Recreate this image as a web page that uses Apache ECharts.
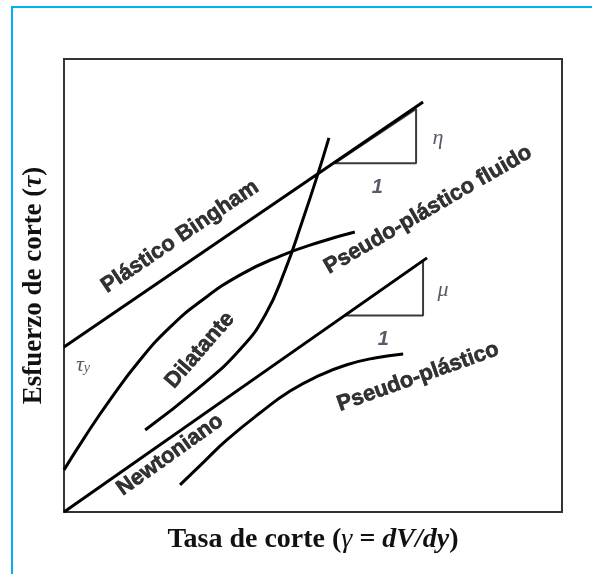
<!DOCTYPE html>
<html>
<head>
<meta charset="utf-8">
<title>Esfuerzo de corte vs tasa de corte</title>
<script src="https://cdn.jsdelivr.net/npm/echarts@6/dist/echarts.min.js"></script>
<style>
  html, body { margin: 0; padding: 0; background: #fff; }
  #c { width: 592px; height: 574px; }
</style>
</head>
<body>
<div id="c"></div>
<script>
// Rheograms on a qualitative scale: shear rate (x) and shear stress (y), 0..10
const bingham = [[0, 3.64], [7.21, 9.05]];
const newtoniano = [[0, 0], [7.29, 5.61]];
const pseudoFluido = [[0, 0.93], [0.42, 1.66], [0.92, 2.47], [1.53, 3.36], [2.13, 4.08],
  [2.73, 4.64], [3.53, 5.23], [4.34, 5.65], [5.14, 5.96], [5.84, 6.18]];
const dilatante = [[1.63, 1.81], [2.73, 2.76], [3.53, 3.58], [4.04, 4.35], [4.44, 5.34],
  [4.78, 6.40], [5.08, 7.40], [5.32, 8.26]];
const pseudoPlastico = [[2.33, 0.60], [2.83, 1.13], [3.27, 1.59], [3.94, 2.19], [4.54, 2.67],
  [5.14, 3.02], [5.68, 3.25], [6.24, 3.40], [6.81, 3.49]];

// slope triangles (run of 1, rise of eta / mu)
const trianguloEta = [[5.44, 7.70], [7.07, 7.70], [7.07, 8.90], [5.44, 7.70]];
const trianguloMu = [[5.64, 4.34], [7.21, 4.34], [7.21, 5.55], [5.64, 4.34]];

// curve names and where they sit
const nombres = ['Plástico Bingham', 'Dilatante', 'Newtoniano', 'Pseudo-plástico', 'Pseudo-plástico fluido'];
const nombresPos = [[2.33, 6.08], [2.73, 3.57], [2.13, 1.26], [7.11, 2.98], [7.31, 6.67]];
const nombresAngulo = [34, 49, 35.5, 19.5, 30];

// symbols for the slopes and the yield stress
const simbolos = ['{g|η}', '{n|1}', '{g|μ}', '{n|1}', '{g|τ}{s|y}'];
const simbolosPos = [[7.51, 8.26], [6.29, 7.17], [7.61, 4.90], [6.41, 3.80], [0.38, 3.25]];

const serif = '"Liberation Serif","Times New Roman",serif';
const sans = 'Arial,"Liberation Sans",sans-serif';

function curva(name, data, smooth) {
  return {
    name, type: 'line', data, smooth, symbol: 'none', silent: true,
    lineStyle: { color: '#000', width: 3 }, z: 3
  };
}
function triangulo(name, data) {
  return {
    name, type: 'line', data, smooth: false, symbol: 'none', silent: true,
    lineStyle: { color: '#3a3a3a', width: 2 }, z: 2
  };
}

const chart = echarts.init(document.getElementById('c'), null, { renderer: 'canvas' });

chart.setOption({
  animation: false,
  backgroundColor: '#fff',
  graphic: [{
    type: 'rect', z: -10, silent: true,
    shape: { x: 12, y: 7, width: 620, height: 620 },
    style: { fill: 'none', stroke: '#00b0f0', lineWidth: 2 }
  }],
  grid: {
    left: 64, top: 59, width: 498, height: 453,
    show: true, borderColor: '#333', borderWidth: 2, backgroundColor: 'transparent'
  },
  xAxis: {
    type: 'value', min: 0, max: 10,
    axisLine: { show: false }, axisTick: { show: false },
    axisLabel: { show: false }, splitLine: { show: false },
    name: '{b|Tasa de corte (}{i|γ}{b| = }{bi|dV/dy}{b|)}',
    nameLocation: 'middle', nameGap: 14,
    nameTextStyle: {
      rich: {
        b: { fontFamily: serif, fontWeight: 'bold', fontSize: 28, color: '#111' },
        i: { fontFamily: serif, fontStyle: 'italic', fontSize: 28, color: '#111' },
        bi: { fontFamily: serif, fontStyle: 'italic', fontWeight: 'bold', fontSize: 28, color: '#111' }
      }
    }
  },
  yAxis: {
    type: 'value', min: 0, max: 10,
    axisLine: { show: false }, axisTick: { show: false },
    axisLabel: { show: false }, splitLine: { show: false },
    name: '{b|Esfuerzo de corte (}{i|τ}{b|)}',
    nameLocation: 'middle', nameGap: 16, nameRotate: 90,
    nameTextStyle: {
      rich: {
        b: { fontFamily: serif, fontWeight: 'bold', fontSize: 27, color: '#111' },
        i: { fontFamily: serif, fontStyle: 'italic', fontWeight: 'bold', fontSize: 27, color: '#111' }
      }
    }
  },
  series: [
    curva('Plástico Bingham', bingham, false),
    curva('Newtoniano', newtoniano, false),
    curva('Pseudo-plástico fluido', pseudoFluido, 0.5),
    curva('Dilatante', dilatante, 0.5),
    curva('Pseudo-plástico', pseudoPlastico, 0.5),
    triangulo('η', trianguloEta),
    triangulo('μ', trianguloMu),
    {
      type: 'scatter', silent: true, symbolSize: 1, itemStyle: { color: 'transparent' }, z: 5,
      label: {
        show: true, position: 'inside',
        rich: {
          t: {
            fontFamily: sans, fontStyle: 'normal', fontWeight: 700, fontSize: 22, color: '#000',
            textBorderColor: '#000', textBorderWidth: 0.6
          }
        }
      },
      data: nombres.map((t, k) => ({
        value: nombresPos[k],
        label: { formatter: '{t|' + t + '}', rotate: nombresAngulo[k] }
      }))
    },
    {
      type: 'scatter', silent: true, symbolSize: 1, itemStyle: { color: 'transparent' }, z: 5,
      label: {
        show: true, position: 'inside',
        rich: {
          g: { fontFamily: serif, fontStyle: 'italic', fontSize: 22, color: '#2e2e44' },
          s: { fontFamily: serif, fontStyle: 'italic', fontSize: 14, color: '#2e2e44', padding: [8, 0, 0, 0] },
          n: { fontFamily: sans, fontStyle: 'italic', fontWeight: 700, fontSize: 20, color: '#2e2e44' }
        }
      },
      data: simbolos.map((t, k) => ({
        value: simbolosPos[k],
        label: { formatter: t }
      }))
    }
  ]
});
</script>
</body>
</html>
